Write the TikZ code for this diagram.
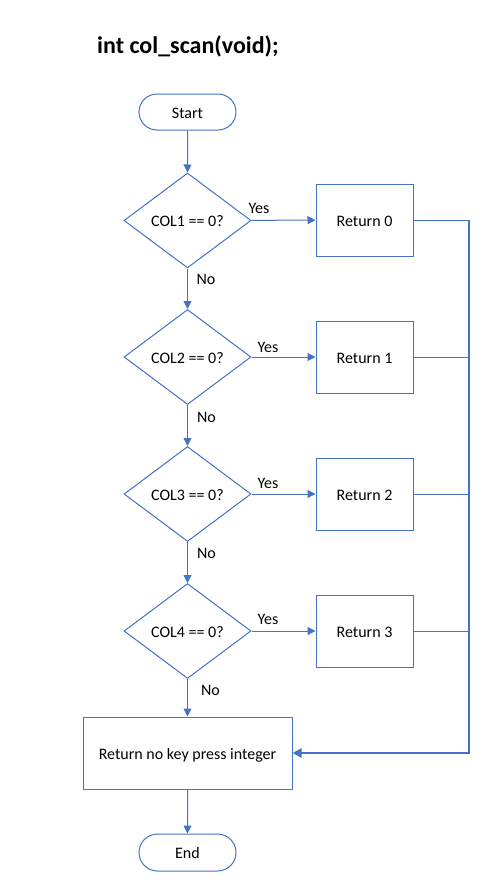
\documentclass[tikz,border=0pt]{standalone}
\usepackage{fontspec}
\setmainfont{Carlito}
\usetikzlibrary{shapes.geometric,shapes.misc,arrows.meta}
\definecolor{lineblue}{HTML}{4472C4}
\begin{document}
\begin{tikzpicture}[x=1pt,y=-1pt,
  base/.style={draw=lineblue,line width=1pt,font=\fontsize{16}{18}\selectfont,inner sep=0pt,text=black,text height=12.5pt,text depth=0pt},
  term/.style={base,rounded rectangle,minimum width=97pt,minimum height=36pt},
  decision/.style={base,diamond,minimum width=127pt,minimum height=95pt,aspect=1.34},
  proc/.style={base,rectangle,minimum width=97pt,minimum height=72pt},
  conn/.style={draw=lineblue,line width=1pt,-{Triangle[length=8pt,width=8pt]}},
  plain/.style={draw=lineblue,line width=1pt},
  thick conn/.style={draw=lineblue,line width=2pt},
  lbl/.style={font=\fontsize{16}{18}\selectfont,inner sep=0pt}
]
\useasboundingbox (0,0) rectangle (487,891);
\node[font=\bfseries\fontsize{24}{28}\selectfont,anchor=west,inner sep=0pt] (title) at (97,46) {int col\_scan(void);};

\node[term] (start) at (187.5,112) {Start};
\node[decision] (d1) at (187.5,220.5) {COL1 == 0?};
\node[decision] (d2) at (187.5,357) {COL2 == 0?};
\node[decision] (d3) at (187.5,494) {COL3 == 0?};
\node[decision] (d4) at (187.5,631) {COL4 == 0?};
\node[proc] (r0) at (364.5,220) {Return 0};
\node[proc] (r1) at (364.5,357) {Return 1};
\node[proc] (r2) at (364.5,494) {Return 2};
\node[proc] (r3) at (364.5,631) {Return 3};
\node[proc,minimum width=209pt] (rn) at (187.5,753) {Return no key press integer};
\node[term,minimum height=37pt] (end) at (187.5,852.5) {End};

\coordinate (c0) at (469,220);
\coordinate (c1) at (469,357);
\coordinate (c2) at (469,494);
\coordinate (c3) at (469,631);
\coordinate (cb) at (469,753);

\draw[conn] (start) -- (d1);
\draw[conn] (d1) -- (d2);
\draw[conn] (d2) -- (d3);
\draw[conn] (d3) -- (d4);
\draw[conn] (d4) -- (rn);
\draw[conn] (rn) -- (end);
\draw[conn] (d1) -- (r0);
\draw[conn] (d2) -- (r1);
\draw[conn] (d3) -- (r2);
\draw[conn] (d4) -- (r3);

\draw[plain] (r0.east) -- (c0);
\draw[plain] (r1.east) -- (c1);
\draw[plain] (r2.east) -- (c2);
\draw[plain] (r3.east) -- (c3);
\draw[thick conn,line join=miter,-{Triangle[length=9pt,width=9pt]}] (c0) -- (cb) -- (rn.east);

\node[lbl] (y1) at (259,208) {Yes};
\node[lbl] (y2) at (268,347) {Yes};
\node[lbl] (y3) at (268,483) {Yes};
\node[lbl] (y4) at (268,619) {Yes};
\node[lbl] (n1) at (206,279) {No};
\node[lbl] (n2) at (206.5,417) {No};
\node[lbl] (n3) at (206.5,553) {No};
\node[lbl] (n4) at (210.5,690) {No};
\end{tikzpicture}
\end{document}
